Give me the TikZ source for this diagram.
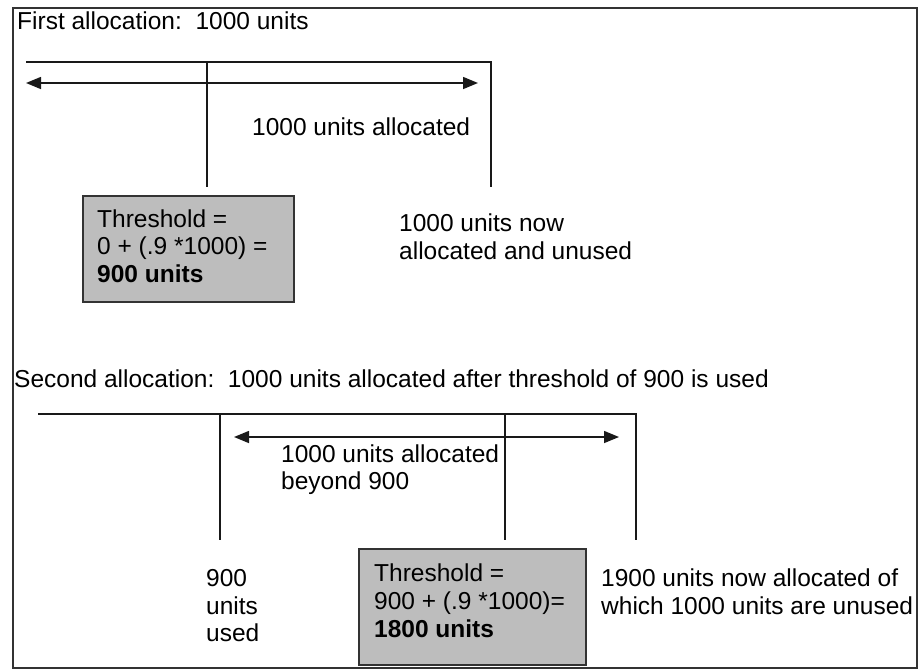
\documentclass[tikz,border=0pt]{standalone}
\usepackage{fontspec}
\setmainfont{Liberation Sans}
\usetikzlibrary{arrows.meta}
\begin{document}
\begin{tikzpicture}[x=1pt,y=-1pt,
  txt/.style={anchor=base west,inner sep=0pt,font=\fontsize{24.5}{28}\selectfont,text=black},
  ln/.style={line width=1.5pt,draw=black!90},
  dbl/.style={line width=1.5pt,draw=black!90,{Triangle[length=15pt,width=12pt]}-{Triangle[length=15pt,width=12pt]}},
  thbox/.style={draw=black!80,line width=1.8pt,fill=black!26,inner sep=0pt,anchor=north west}]
\useasboundingbox (0,0) rectangle (921,670);
\draw[line width=1.8pt,draw=black!80] (13,8) rectangle (917,668);
% ---------- first allocation ----------
\node[txt] (h1) at (17,29) {First allocation:\ \ 1000 units};
\coordinate (a1) at (26,62);
\coordinate (a2) at (491,62);
\coordinate (a3) at (207,62);
\coordinate (a4) at (207,187);
\coordinate (a5) at (491,187);
\coordinate (r1) at (26,83);
\coordinate (r2) at (478,83);
\draw[ln] (a1) -- (a2) -- (a5);
\draw[ln] (a3) -- (a4);
\draw[dbl] (r1) -- (r2);
\node[txt] (l1) at (252,135) {1000 units allocated};
\node[thbox,minimum width=211pt,minimum height=106pt] (b1) at (82,195) {};
\node[txt] (b1a) at (97,227) {Threshold =};
\node[txt] (b1b) at (97,254) {0 + (.9 *1000) =};
\node[txt] (b1c) at (97,282) {\bfseries 900 units};
\node[txt] (n1a) at (399,231) {1000 units now};
\node[txt] (n1b) at (399,259) {allocated and unused};
% ---------- second allocation ----------
\node[txt] (h2) at (14,387) {Second allocation:\ \ 1000 units allocated after threshold of 900 is used};
\coordinate (c1) at (38,414);
\coordinate (c2) at (636,414);
\coordinate (c3) at (220,414);
\coordinate (c4) at (220,540);
\coordinate (c5) at (505,414);
\coordinate (c6) at (505,540);
\coordinate (c7) at (636,540);
\coordinate (s1) at (234,437);
\coordinate (s2) at (619,437);
\draw[ln] (c1) -- (c2) -- (c7);
\draw[ln] (c3) -- (c4);
\draw[ln] (c5) -- (c6);
\draw[dbl] (s1) -- (s2);
\node[txt] (l2a) at (281,462) {1000 units allocated};
\node[txt] (l2b) at (281,489) {beyond 900};
\node[txt] (u1) at (206,586) {900};
\node[txt] (u2) at (206,614) {units};
\node[txt] (u3) at (206,641) {used};
\node[thbox,minimum width=227pt,minimum height=116pt] (b2) at (358,548) {};
\node[txt] (b2a) at (374,581) {Threshold =};
\node[txt] (b2b) at (374,609) {900 + (.9 *1000)=};
\node[txt] (b2c) at (374,637) {\bfseries 1800 units};
\node[txt] (n2a) at (601,586) {1900 units now allocated of};
\node[txt] (n2b) at (601,614) {which 1000 units are unused};
\end{tikzpicture}
\end{document}
